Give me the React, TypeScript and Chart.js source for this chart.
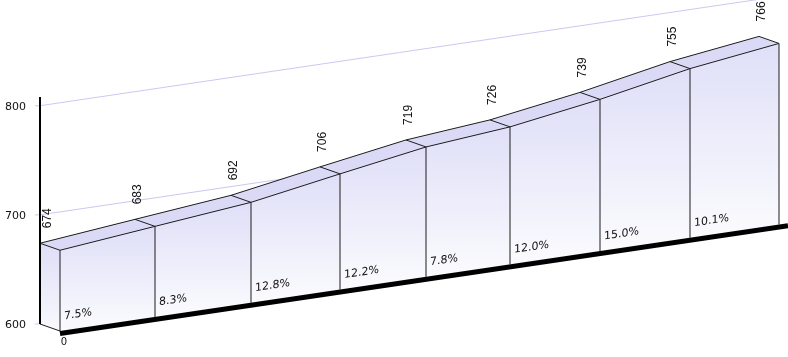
import React, { useEffect, useRef } from 'react';
import { Chart, registerables } from 'chart.js';

Chart.register(...registerables);

// ---- data ----
const xPositions = [0, 95, 191, 280, 366, 450, 540, 630, 719];
const values = [674, 683, 692, 706, 719, 726, 739, 755, 766];
const shares = [7.5, 8.3, 12.8, 12.2, 7.8, 12.0, 15.0, 10.1];
const yTicks = [600, 700, 800];
const xTickLabels = ['0'];

// ---- pseudo-3D styling ----
const SHEAR = 0.148; // rise of the floor per px to the right
const DEPTH_X = -20;
const DEPTH_Y = -7;
const EDGE = '#1c1c1c';
const GRID = '#c9c9f2';

export default function App() {
  const ref = useRef<HTMLCanvasElement | null>(null);

  useEffect(() => {
    document.body.style.margin = '0';
    const canvas = ref.current;
    if (!canvas) return;

    const plugin = {
      id: 'pseudo3d',
      beforeDraw(chart: any) {
        const ctx = chart.ctx;
        ctx.save();
        ctx.fillStyle = '#ffffff';
        ctx.fillRect(0, 0, chart.width, chart.height);
        ctx.restore();
      },
      afterDatasetsDraw(chart: any) {
        const ctx: CanvasRenderingContext2D = chart.ctx;
        const xs = chart.scales.x;
        const ys = chart.scales.y;
        const meta = chart.getDatasetMeta(0);
        const x0 = xs.getPixelForValue(xPositions[0]);
        const shift = (X: number) => -SHEAR * (X - x0);
        const yBase = ys.getPixelForValue(ys.min);
        const pts = meta.data.map((el: any) => ({ X: el.x, Y: el.y }));
        const front = (X: number, Y: number) => ({ x: X, y: Y - DEPTH_Y + shift(X) });
        const back = (X: number, Y: number) => ({ x: X + DEPTH_X, y: Y + shift(X) });
        const fTop = pts.map((p: any) => front(p.X, p.Y));
        const fBot = pts.map((p: any) => front(p.X, yBase));
        const bTop = pts.map((p: any) => back(p.X, p.Y));
        const bBot = pts.map((p: any) => back(p.X, yBase));
        const axisX = x0 + DEPTH_X;
        const lastBackX = pts[pts.length - 1].X + DEPTH_X;

        ctx.save();
        // gridlines on the back wall
        ctx.lineWidth = 1;
        ctx.strokeStyle = GRID;
        ys.ticks.forEach((t: any) => {
          const y = ys.getPixelForValue(t.value);
          ctx.beginPath();
          ctx.moveTo(axisX, y);
          ctx.lineTo(lastBackX, y - SHEAR * (lastBackX - axisX));
          ctx.stroke();
          ctx.beginPath();
          ctx.moveTo(axisX - 5, y);
          ctx.lineTo(axisX, y);
          ctx.stroke();
        });

        // left side face
        const sideGrad = ctx.createLinearGradient(0, bTop[0].y, 0, fBot[0].y);
        sideGrad.addColorStop(0, '#dedef7');
        sideGrad.addColorStop(1, '#f9f9fd');
        ctx.fillStyle = sideGrad;
        ctx.beginPath();
        ctx.moveTo(bTop[0].x, bTop[0].y);
        ctx.lineTo(fTop[0].x, fTop[0].y);
        ctx.lineTo(fBot[0].x, fBot[0].y);
        ctx.lineTo(bBot[0].x, bBot[0].y);
        ctx.closePath();
        ctx.fill();

        // top faces
        for (let i = 0; i < pts.length - 1; i++) {
          ctx.fillStyle = '#dadaf7';
          ctx.beginPath();
          ctx.moveTo(fTop[i].x, fTop[i].y);
          ctx.lineTo(fTop[i + 1].x, fTop[i + 1].y);
          ctx.lineTo(bTop[i + 1].x, bTop[i + 1].y);
          ctx.lineTo(bTop[i].x, bTop[i].y);
          ctx.closePath();
          ctx.fill();
        }

        // front faces
        for (let i = 0; i < pts.length - 1; i++) {
          const top = Math.min(fTop[i].y, fTop[i + 1].y);
          const bot = Math.max(fBot[i].y, fBot[i + 1].y);
          const g = ctx.createLinearGradient(0, top, 0, bot);
          g.addColorStop(0, '#dfdff8');
          g.addColorStop(1, '#fbfbfe');
          ctx.fillStyle = g;
          ctx.beginPath();
          ctx.moveTo(fTop[i].x, fTop[i].y);
          ctx.lineTo(fTop[i + 1].x, fTop[i + 1].y);
          ctx.lineTo(fBot[i + 1].x, fBot[i + 1].y);
          ctx.lineTo(fBot[i].x, fBot[i].y);
          ctx.closePath();
          ctx.fill();
        }

        // edges
        ctx.strokeStyle = EDGE;
        ctx.lineWidth = 1;
        ctx.beginPath();
        fTop.forEach((p: any, i: number) => (i ? ctx.lineTo(p.x, p.y) : ctx.moveTo(p.x, p.y)));
        ctx.stroke();
        ctx.beginPath();
        bTop.forEach((p: any, i: number) => (i ? ctx.lineTo(p.x, p.y) : ctx.moveTo(p.x, p.y)));
        ctx.stroke();
        for (let i = 0; i < pts.length; i++) {
          ctx.beginPath();
          ctx.moveTo(bTop[i].x, bTop[i].y);
          ctx.lineTo(fTop[i].x, fTop[i].y);
          ctx.lineTo(fBot[i].x, fBot[i].y);
          ctx.stroke();
        }
        ctx.beginPath();
        ctx.moveTo(bBot[0].x, bBot[0].y);
        ctx.lineTo(fBot[0].x, fBot[0].y);
        ctx.stroke();

        // thick floor line
        ctx.strokeStyle = '#000000';
        ctx.lineWidth = 5;
        ctx.beginPath();
        ctx.moveTo(fBot[0].x, fBot[0].y + 2.5);
        const xr = chart.width;
        ctx.lineTo(xr, fBot[0].y + 2.5 - SHEAR * (xr - fBot[0].x));
        ctx.stroke();

        // y axis
        ctx.lineWidth = 2;
        ctx.beginPath();
        ctx.moveTo(axisX, chart.chartArea.top);
        ctx.lineTo(axisX, yBase);
        ctx.stroke();

        // y tick labels
        ctx.fillStyle = '#111111';
        ctx.font = '11px "DejaVu Sans"';
        ctx.textAlign = 'right';
        ctx.textBaseline = 'middle';
        ys.ticks.forEach((t: any) => {
          ctx.fillText(String(t.value), axisX - 14, ys.getPixelForValue(t.value) + 1);
        });

        // x tick label
        ctx.font = '10px "DejaVu Sans"';
        ctx.textAlign = 'center';
        ctx.textBaseline = 'middle';
        xTickLabels.forEach((lab, i) => {
          ctx.fillText(lab, fBot[i].x + 4, fBot[i].y + 11);
        });

        // value labels (rotated)
        ctx.font = '12px "Liberation Sans"';
        ctx.textAlign = 'left';
        ctx.textBaseline = 'middle';
        values.forEach((v, i) => {
          const cx = Math.max(bTop[i].x + 3, axisX + 8);
          ctx.save();
          ctx.translate(cx, bTop[i].y - 15);
          ctx.rotate(-Math.PI / 2);
          ctx.fillText(String(v), 0, 0);
          ctx.restore();
        });

        // share labels, sheared with the front wall
        ctx.save();
        ctx.setTransform(1, -SHEAR, 0, 1, 0, SHEAR * x0);
        ctx.font = '11px "DejaVu Sans"';
        ctx.textAlign = 'left';
        ctx.textBaseline = 'alphabetic';
        shares.forEach((s, i) => {
          ctx.fillText(s.toFixed(1) + '%', pts[i].X + 4, yBase - DEPTH_Y - 11);
        });
        ctx.restore();

        ctx.restore();
      },
    };

    const chart = new Chart(canvas, {
      type: 'line',
      data: {
        datasets: [
          {
            data: xPositions.map((x, i) => ({ x, y: values[i] })),
            showLine: false,
            pointRadius: 0,
            borderWidth: 0,
          },
        ],
      },
      options: {
        animation: false,
        responsive: false,
        maintainAspectRatio: false,
        layout: { padding: { left: 60, right: 9, top: 97, bottom: 33 } },
        scales: {
          x: { type: 'linear', min: 0, max: 719, display: false },
          y: {
            type: 'linear',
            min: 600,
            max: 808,
            display: false,
            afterBuildTicks: (s: any) => {
              s.ticks = yTicks.map((v) => ({ value: v }));
            },
          },
        },
        plugins: { legend: { display: false }, tooltip: { enabled: false } },
      },
      plugins: [plugin],
    });
    return () => chart.destroy();
  }, []);

  return <canvas ref={ref} width={788} height={357} style={{ display: 'block' }} />;
}
